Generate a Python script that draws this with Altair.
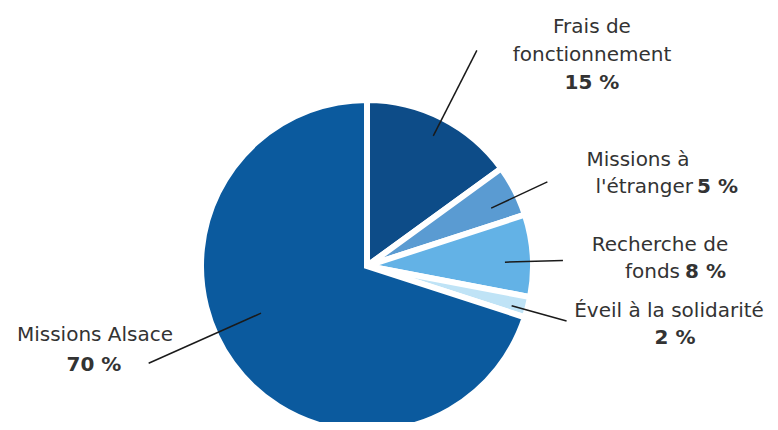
import math
import altair as alt
import pandas as pd

# ---- data ----
categories = ["Frais de fonctionnement", "Missions à l'étranger", "Recherche de fonds",
              "Éveil à la solidarité", "Missions Alsace"]
values = [15, 5, 8, 2, 70]

# ---- styles / layout ----
colors = ["#0d4c88", "#5a9bd2", "#63b2e6", "#bfe3f6", "#0b5a9e"]
W, H = 762, 414
CX, CY = 359, 258
R = 166
leader_r_in = [146, 137, 138, 150, 116]
leader_r_out = [242, 199, 196, 207, 239]
leader_shift = [0, 2, 2, 1, 12]

label_lines = ["Frais de", "fonctionnement", "15 %",
               "Missions à", "l'étranger", "5 %",
               "Recherche de", "fonds", "8 %",
               "Éveil à la solidarité", "2 %",
               "Missions Alsace", "70 %"]
label_x = [584, 584, 584, 630, 685, 689, 652, 672, 677, 661, 667, 87, 86]
label_y = [25, 53, 81, 158, 185, 185, 243, 270, 270, 309, 336, 333, 363]
label_kind = ["cn", "cn", "cb", "cn", "rn", "lb", "cn", "rn", "lb", "cn", "cb", "cn", "cb"]

# ---- build tables ----
pie_df = pd.DataFrame({"cat": categories, "value": values, "order": list(range(len(values)))})

total = sum(values)
rows = []
cum = 0
for i, v in enumerate(values):
    mid = (cum + v / 2) / total * 360 + leader_shift[i]
    cum += v
    a = math.radians(mid)
    rows.append({
        "x": CX + leader_r_in[i] * math.sin(a),
        "y": CY - leader_r_in[i] * math.cos(a),
        "x2": CX + leader_r_out[i] * math.sin(a),
        "y2": CY - leader_r_out[i] * math.cos(a),
    })
lead_df = pd.DataFrame(rows)

lab_df = pd.DataFrame({"text": label_lines, "x": label_x, "y": label_y, "kind": label_kind})

xs = alt.Scale(domain=[0, W], range=[0, W], nice=False, zero=False)
ys = alt.Scale(domain=[0, H], range=[0, H], nice=False, zero=False)

pie = alt.Chart(pie_df).mark_arc(outerRadius=R, stroke="white", strokeWidth=6).encode(
    theta=alt.Theta("value:Q", stack=True),
    color=alt.Color("cat:N", scale=alt.Scale(domain=categories, range=colors), legend=None),
    order=alt.Order("order:Q"),
    x=alt.value(CX),
    y=alt.value(CY),
)

leaders = alt.Chart(lead_df).mark_rule(color="#1a1a1a", strokeWidth=1.5).encode(
    x=alt.X("x:Q", scale=xs, axis=None),
    y=alt.Y("y:Q", scale=ys, axis=None),
    x2="x2:Q",
    y2="y2:Q",
)

def text_layer(kind, align, weight):
    return alt.Chart(lab_df).transform_filter(alt.datum.kind == kind).mark_text(
        font="DejaVu Sans", fontSize=20, fontWeight=weight, color="#333333",
        align=align, baseline="alphabetic",
    ).encode(
        x=alt.X("x:Q", scale=xs, axis=None),
        y=alt.Y("y:Q", scale=ys, axis=None),
        text="text:N",
    )

chart = alt.layer(
    pie,
    leaders,
    text_layer("cn", "center", "normal"),
    text_layer("cb", "center", "bold"),
    text_layer("rn", "right", "normal"),
    text_layer("lb", "left", "bold"),
).properties(
    width=W, height=H,
    autosize=alt.AutoSizeParams(type="none"),
    padding=0,
    background="white",
).configure_view(stroke=None)

chart.save("out.html", embed_options={"renderer": "svg", "actions": False})
